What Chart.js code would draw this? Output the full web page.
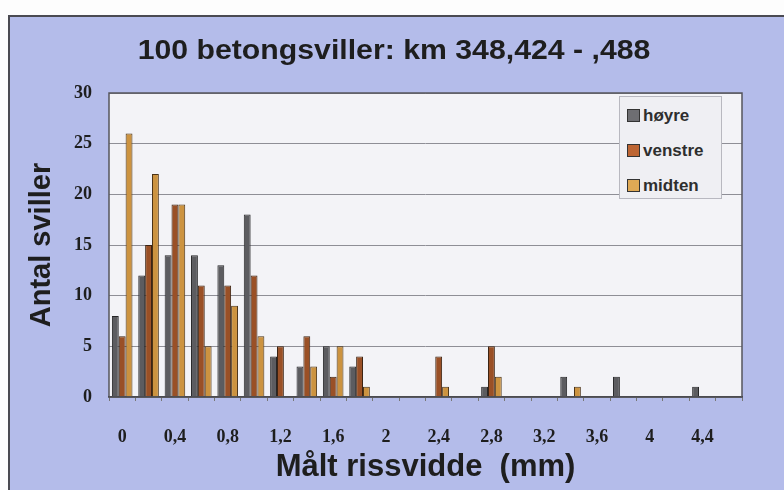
<!DOCTYPE html>
<html>
<head>
<meta charset="utf-8">
<script src="https://cdn.jsdelivr.net/npm/chart.js@4/dist/chart.umd.min.js"></script>
<style>
  html, body { margin: 0; padding: 0; background: #fdfdfd; }
  #frame {
    position: absolute; left: 8px; top: 15px; width: 800px; height: 480px;
    background: #b4bcea; border-left: 2px solid #4a4a52; border-top: 2px solid #4a4a52;
  }
  #wrap { position: absolute; left: 0; top: 0; width: 784px; height: 490px; }
  #title {
    position: absolute; left: 94px; top: 33px; width: 600px; text-align: center;
    font-family: "Liberation Sans", Arial, sans-serif; font-weight: bold; font-size: 28px;
    line-height: 34px; color: #1e1e1e; transform: scaleX(1.08); white-space: nowrap;
  }
  #legend {
    position: absolute; left: 619px; top: 96px; width: 103px; height: 103px;
    background: #efeff3; border: 1px solid #b8b8c0; box-sizing: border-box;
    font-family: "Liberation Sans", Arial, sans-serif; font-size: 17px; font-weight: bold; color: #2e2e2e;
  }
  #legend div { position: absolute; left: 7px; height: 20px; line-height: 20px; }
  #legend span { display: inline-block; width: 13px; height: 13px; border: 1px solid #333;
    margin-right: 3px; vertical-align: -1px; box-sizing: border-box; }
</style>
</head>
<body>
<div id="frame"></div>
<div id="wrap"><canvas id="chart" width="784" height="490"></canvas></div>
<div id="title">100 betongsviller: km 348,424 - ,488</div>
<div id="legend">
  <div style="top:9px"><span style="background:#6e6e72"></span>høyre</div>
  <div style="top:44px"><span style="background:#bd6533"></span>venstre</div>
  <div style="top:79px"><span style="background:#dfa955"></span>midten</div>
</div>
<script>
// Målt rissvidde (mm), one category per 0,2 mm
const categories = ['0', '0,2', '0,4', '0,6', '0,8', '1', '1,2', '1,4', '1,6', '1,8', '2', '2,2',
    '2,4', '2,6', '2,8', '3', '3,2', '3,4', '3,6', '3,8', '4', '4,2', '4,4', '4,6'];

// antall sviller per side
const hoyre   = [8, 12, 14, 14, 13, 18, 4, 3, 5, 3, 0, 0, 0, 0, 1, 0, 0, 2, 0, 2, 0, 0, 1, 0];
const venstre = [6, 15, 19, 11, 11, 12, 5, 6, 2, 4, 0, 0, 4, 0, 5, 0, 0, 0, 0, 0, 0, 0, 0, 0];
const midten  = [26, 22, 19, 5, 9, 6, 0, 3, 5, 1, 0, 0, 1, 0, 2, 0, 0, 1, 0, 0, 0, 0, 0, 0];

const yTicks = [0, 5, 10, 15, 20, 25, 30];

// lys plotflate med mørk ramme
const plotBg = {
    id: 'plotBg',
    beforeDraw(chart) {
        const {ctx, chartArea: a} = chart;
        ctx.save();
        ctx.fillStyle = '#f3f3f7';
        ctx.fillRect(a.left, a.top, a.right - a.left, a.bottom - a.top);
        ctx.restore();
    },
    afterDraw(chart) {
        const {ctx, chartArea: a} = chart;
        ctx.save();
        ctx.strokeStyle = '#55555c';
        ctx.lineWidth = 1.5;
        ctx.strokeRect(a.left, a.top, a.right - a.left, a.bottom - a.top);
        ctx.restore();
    }
};

const tickFont = {family: '"Liberation Serif", "Times New Roman", serif', size: 18, weight: 'bold'};
const sansBold = {family: '"Liberation Sans", Arial, sans-serif', weight: 'bold'};

const ctx = document.getElementById('chart').getContext('2d');
const chart = new Chart(ctx, {
    type: 'bar',
    data: {
        labels: categories,
        datasets: [
            {label: 'høyre', data: hoyre, backgroundColor: '#5c5c60', borderColor: '#262628', borderWidth: 1},
            {label: 'venstre', data: venstre, backgroundColor: '#9a5026', borderColor: '#3a2212', borderWidth: 1},
            {label: 'midten', data: midten, backgroundColor: '#cc9340', borderColor: '#4a3216', borderWidth: 1}
        ]
    },
    options: {
        responsive: false,
        animation: false,
        devicePixelRatio: 1,
        layout: {padding: {left: 12, right: 42, top: 93, bottom: 0}},
        datasets: {bar: {categoryPercentage: 0.78, barPercentage: 1}},
        plugins: {
            legend: {display: false},
            tooltip: {enabled: false},
            title: {display: false}
        },
        scales: {
            x: {
                afterFit(scale) { scale.height = 93; },
                grid: {drawOnChartArea: false, drawTicks: true, tickLength: 4, color: '#777'},
                border: {color: '#333', width: 1.5},
                ticks: {
                    autoSkip: false, maxRotation: 0, padding: 26,
                    color: '#1e1e1e', font: tickFont,
                    callback: (v, i) => i % 2 === 0 ? categories[i] : ''
                },
                title: {
                    display: true, text: 'Målt rissvidde  (mm)', color: '#1e1e1e',
                    font: {...sansBold, size: 31}, padding: {top: 0, bottom: 4}
                }
            },
            y: {
                min: 0, max: 30,
                afterFit(scale) { scale.width = 97; },
                afterBuildTicks(scale) { scale.ticks = yTicks.map(v => ({value: v})); },
                grid: {color: '#8e8e96', lineWidth: 1, drawTicks: false},
                border: {display: false},
                ticks: {padding: 17, color: '#1e1e1e', font: tickFont},
                title: {
                    display: true, text: 'Antal sviller', color: '#1e1e1e',
                    font: {...sansBold, size: 29}, padding: {top: 13, bottom: 0}
                }
            }
        }
    },
    plugins: [plotBg]
});
</script>
</body>
</html>
